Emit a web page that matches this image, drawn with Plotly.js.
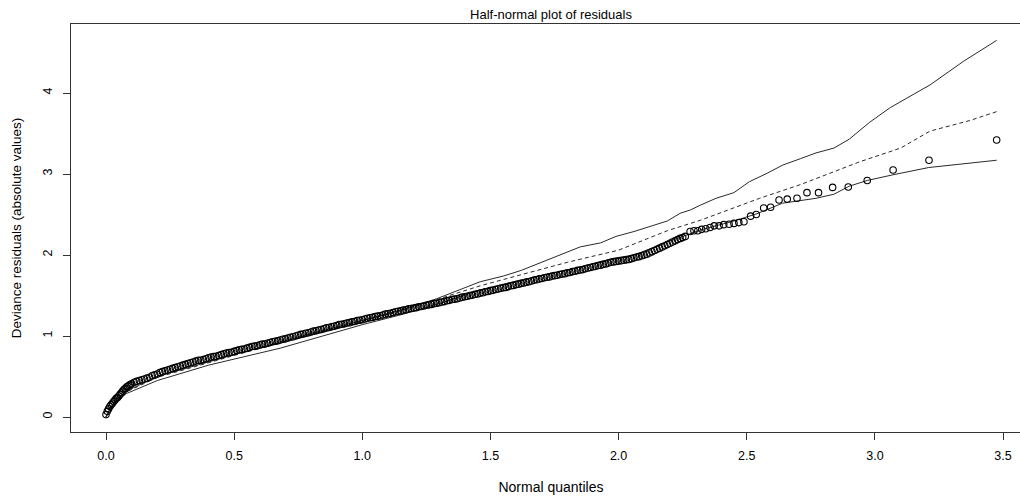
<!DOCTYPE html>
<html>
<head>
<meta charset="utf-8">
<script src="https://cdn.plot.ly/plotly-3.0.1.min.js"></script>
<style>
html,body{margin:0;padding:0;overflow:hidden;background:#fff;width:1020px;height:498px;}
#chart{width:1035px;height:498px;}
</style>
</head>
<body>
<div id="chart"></div>
<script>
const resid_x = [
0.000,0.005,0.010,0.015,0.020,0.025,0.030,0.035,0.040,0.045,0.050,0.055,0.060,0.065,0.070,0.075,0.080,0.085,0.090,0.095,0.100,
0.11,0.12,0.13,0.14,0.15,0.16,0.17,0.18,0.19,0.20,0.21,0.22,0.23,0.24,0.25,0.26,0.27,0.28,0.29,0.30,
0.31,0.32,0.33,0.34,0.35,0.36,0.37,0.38,0.39,0.40,0.41,0.42,0.43,0.44,0.45,0.46,0.47,0.48,0.49,0.50,
0.51,0.52,0.53,0.54,0.55,0.56,0.57,0.58,0.59,0.60,0.61,0.62,0.63,0.64,0.65,0.66,0.67,0.68,0.69,0.70,
0.71,0.72,0.73,0.74,0.75,0.76,0.77,0.78,0.79,0.80,0.81,0.82,0.83,0.84,0.85,0.86,0.87,0.88,0.89,0.90,
0.91,0.92,0.93,0.94,0.95,0.96,0.97,0.98,0.99,1.00,1.01,1.02,1.03,1.04,1.05,1.06,1.07,1.08,1.09,1.10,
1.11,1.12,1.13,1.14,1.15,1.16,1.17,1.18,1.19,1.20,1.21,1.22,1.23,1.24,1.25,1.26,1.27,1.28,1.29,1.30,
1.31,1.32,1.33,1.34,1.35,1.36,1.37,1.38,1.39,1.40,1.41,1.42,1.43,1.44,1.45,1.46,1.47,1.48,1.49,1.50,
1.51,1.52,1.53,1.54,1.55,1.56,1.57,1.58,1.59,1.60,1.61,1.62,1.63,1.64,1.65,1.66,1.67,1.68,1.69,1.70,
1.71,1.72,1.73,1.74,1.75,1.76,1.77,1.78,1.79,1.80,1.81,1.82,1.83,1.84,1.85,1.86,1.87,1.88,1.89,1.90,
1.91,1.92,1.93,1.94,1.95,1.96,1.97,1.98,1.99,2.00,2.01,2.02,2.03,2.04,2.05,2.06,2.07,2.08,2.09,2.10,
2.11,2.12,2.13,2.14,2.15,2.16,2.17,2.18,2.19,2.20,2.21,2.22,2.23,2.24,2.25,2.26,
2.279,2.294,2.309,2.324,2.340,2.357,2.373,2.392,2.410,2.431,2.450,2.469,2.489,2.515,2.537,2.566,
2.593,2.626,2.658,2.696,2.735,2.780,2.835,2.896,2.970,3.071,3.211,3.475
];
const resid_y = [
0.03,0.07,0.10,0.13,0.15,0.17,0.19,0.21,0.23,0.24,0.26,0.28,0.30,0.32,0.34,0.35,0.37,0.38,0.39,0.40,0.41,
0.43,0.44,0.45,0.46,0.47,0.48,0.49,0.51,0.52,0.53,0.55,0.56,0.57,0.58,0.59,0.60,0.61,0.62,0.63,0.64,
0.65,0.66,0.67,0.68,0.69,0.70,0.70,0.71,0.72,0.73,0.74,0.745,0.75,0.76,0.77,0.78,0.79,0.795,0.80,0.81,
0.82,0.83,0.835,0.84,0.85,0.86,0.87,0.875,0.88,0.89,0.90,0.90,0.91,0.92,0.93,0.935,0.94,0.95,0.96,0.965,
0.975,0.985,0.99,1.00,1.01,1.02,1.025,1.035,1.04,1.05,1.06,1.065,1.075,1.08,1.09,1.10,1.105,1.115,1.12,1.13,
1.14,1.145,1.15,1.16,1.165,1.175,1.18,1.19,1.195,1.20,1.21,1.22,1.225,1.23,1.24,1.245,1.25,1.26,1.27,1.275,
1.28,1.29,1.30,1.305,1.31,1.32,1.325,1.335,1.34,1.345,1.35,1.36,1.365,1.37,1.38,1.385,1.39,1.40,1.405,1.41,
1.42,1.425,1.435,1.44,1.45,1.455,1.46,1.47,1.48,1.485,1.49,1.50,1.505,1.515,1.52,1.53,1.535,1.545,1.55,1.56,
1.565,1.575,1.58,1.59,1.595,1.60,1.61,1.62,1.625,1.635,1.64,1.65,1.655,1.665,1.67,1.68,1.69,1.695,1.705,1.71,
1.72,1.725,1.73,1.74,1.745,1.75,1.76,1.765,1.77,1.78,1.785,1.795,1.80,1.81,1.815,1.82,1.83,1.84,1.845,1.855,
1.86,1.87,1.875,1.885,1.89,1.90,1.91,1.915,1.92,1.925,1.93,1.935,1.94,1.945,1.955,1.965,1.975,1.98,1.99,2.00,
2.01,2.025,2.04,2.055,2.07,2.085,2.10,2.115,2.13,2.145,2.16,2.175,2.19,2.205,2.215,2.23,
2.29,2.30,2.30,2.317,2.325,2.34,2.36,2.36,2.375,2.38,2.39,2.40,2.41,2.48,2.50,2.58,
2.59,2.68,2.69,2.70,2.77,2.77,2.835,2.84,2.92,3.05,3.17,3.42
];

// Simulated envelope: lower bound, mean (dashed), upper bound
const lower_x = [0,0.02,0.05,0.08,0.2,0.4,0.68,1.0,1.16,1.3,1.46,1.59,1.85,1.98,2.06,2.19,2.32,2.45,2.54,2.64,2.77,2.84,2.90,2.97,3.07,3.21,3.475];
const lower_y = [0.0,0.12,0.22,0.29,0.45,0.64,0.85,1.14,1.27,1.40,1.57,1.67,1.85,1.96,2.0,2.16,2.31,2.42,2.51,2.64,2.70,2.75,2.85,2.92,2.99,3.08,3.17];

const mean_x = [0,0.02,0.05,0.08,0.2,0.5,0.8,1.0,1.2,1.46,1.6,1.8,2.0,2.19,2.32,2.45,2.55,2.71,2.84,2.94,3.10,3.215,3.37,3.475];
const mean_y = [0,0.13,0.24,0.31,0.49,0.76,1.02,1.18,1.36,1.62,1.74,1.91,2.06,2.30,2.43,2.58,2.70,2.87,3.03,3.15,3.32,3.53,3.66,3.77];

const upper_x = [0,0.02,0.05,0.08,0.2,0.5,0.8,1.0,1.16,1.29,1.46,1.55,1.62,1.72,1.85,1.93,1.99,2.06,2.12,2.19,2.24,2.28,2.32,2.38,2.45,2.51,2.58,2.64,2.71,2.77,2.84,2.90,2.98,3.06,3.215,3.345,3.475];
const upper_y = [0,0.13,0.24,0.32,0.50,0.77,1.03,1.19,1.33,1.46,1.67,1.74,1.81,1.94,2.10,2.15,2.23,2.29,2.35,2.42,2.515,2.556,2.617,2.70,2.77,2.905,3.01,3.11,3.19,3.26,3.32,3.43,3.64,3.82,4.10,4.39,4.65];

const x_ticks = [0,0.5,1,1.5,2,2.5,3,3.5];
const x_tick_labels = ["0.0","0.5","1.0","1.5","2.0","2.5","3.0","3.5"];
const y_ticks = [0,1,2,3,4];
const y_tick_labels = ["0","1","2","3","4"];

const FONT = "'Liberation Sans', Arial, sans-serif";
const LINE = '#2a2a2a';

const traces = [
  {x: upper_x, y: upper_y, type:'scatter', mode:'lines', line:{color:LINE, width:1}, hoverinfo:'skip'},
  {x: mean_x, y: mean_y, type:'scatter', mode:'lines', line:{color:LINE, width:1, dash:'4px,3px'}, hoverinfo:'skip'},
  {x: lower_x, y: lower_y, type:'scatter', mode:'lines', line:{color:LINE, width:1}, hoverinfo:'skip'},
  {x: resid_x, y: resid_y, type:'scatter', mode:'markers',
   marker:{symbol:'circle-open', size:6.5, color:'#000', line:{width:1.1, color:'#000'}}}
];

const layout = {
  width: 1035, height: 498,
  margin: {l:71, r:4, t:24, b:66},
  paper_bgcolor:'#fff', plot_bgcolor:'#fff',
  showlegend:false,
  font:{family: FONT, size:13, color:'#000'},
  title:{text:'Half-normal plot of residuals', x:0.5, xref:'paper', xanchor:'center',
         y:1-14/498, yref:'container', yanchor:'middle', font:{family:FONT, size:13, color:'#000'}},
  xaxis:{
    range:[-0.1366, 3.609], tickvals:x_ticks, ticktext:x_tick_labels,
    showgrid:false, zeroline:false, showline:true, mirror:true, linecolor:'#333', linewidth:1,
    ticks:'outside', ticklen:7, tickcolor:'#333', tickwidth:1, ticklabelstandoff:5,
    tickfont:{family:FONT, size:12.5, color:'#000'},
    title:{text:'Normal quantiles', standoff:20, font:{family:FONT, size:14, color:'#000'}}
  },
  yaxis:{
    range:[-0.185, 4.852], tickvals:y_ticks, ticktext:y_tick_labels, tickangle:-90,
    showgrid:false, zeroline:false, showline:true, mirror:true, linecolor:'#333', linewidth:1,
    ticks:'outside', ticklen:7, tickcolor:'#333', tickwidth:1, ticklabelstandoff:6,
    tickfont:{family:FONT, size:12.5, color:'#000'},
    title:{text:'Deviance residuals (absolute values)', standoff:16, font:{family:FONT, size:13.5, color:'#000'}}
  }
};

Plotly.newPlot('chart', traces, layout, {staticPlot:true, displayModeBar:false});
</script>
</body>
</html>
